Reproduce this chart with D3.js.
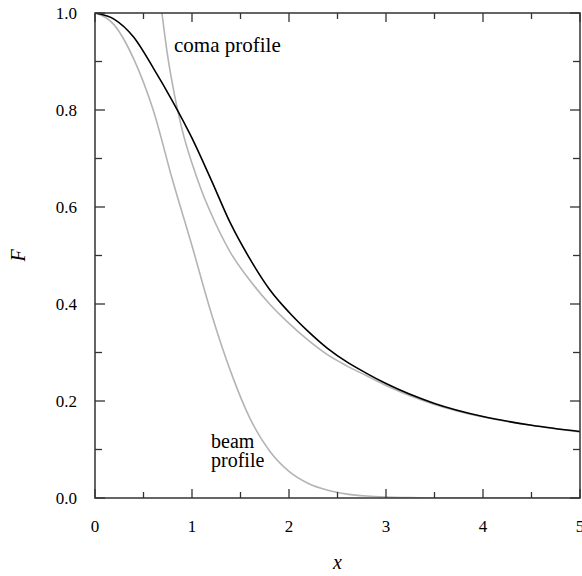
<!DOCTYPE html>
<html>
<head>
<meta charset="utf-8">
<script src="https://cdn.jsdelivr.net/npm/d3@7"></script>
<style>
  body { margin: 0; background: #fff; }
</style>
</head>
<body>
<div id="chart"></div>
<script>
// values
var beamX = [0, 0.2, 0.4, 0.6, 0.8, 1.0, 1.2, 1.4, 1.6, 1.8, 2.0, 2.2, 2.4, 2.6, 2.8, 3.0, 3.2, 3.5, 4.0, 5.0];
var beamF = [1.0, 0.975, 0.905, 0.80, 0.655, 0.52, 0.38, 0.26, 0.163, 0.097, 0.055, 0.03, 0.016, 0.008, 0.004, 0.002, 0.001, 0, 0, 0];

var comaX = [0.69, 0.75, 0.8, 0.9, 1.0, 1.1, 1.2, 1.4, 1.6, 1.8, 2.0, 2.2, 2.4, 2.6, 2.8, 3.0, 3.5, 4.0, 4.5, 5.0];
var comaF = [1.0, 0.91, 0.852, 0.758, 0.69, 0.633, 0.585, 0.505, 0.448, 0.40, 0.36, 0.325, 0.295, 0.272, 0.252, 0.232, 0.193, 0.167, 0.150, 0.136];

var totalX = [0, 0.2, 0.4, 0.6, 0.8, 1.0, 1.2, 1.4, 1.6, 1.8, 2.0, 2.2, 2.4, 2.6, 2.8, 3.0, 3.5, 4.0, 4.5, 5.0];
var totalF = [1.0, 0.987, 0.95, 0.887, 0.818, 0.742, 0.655, 0.565, 0.492, 0.43, 0.383, 0.343, 0.308, 0.28, 0.257, 0.236, 0.195, 0.168, 0.150, 0.137];

var xTicks = [0, 1, 2, 3, 4, 5];
var yTicks = [0.0, 0.2, 0.4, 0.6, 0.8, 1.0];

var serif = "'Liberation Serif', 'Times New Roman', Times, serif";

var margin = { top: 13, right: 2, bottom: 78, left: 95 },
  width = 582 - margin.left - margin.right,
  height = 576 - margin.top - margin.bottom;

var svg = d3.select("#chart")
  .append("svg")
  .attr("width", 582)
  .attr("height", 576)
  .attr("font-family", serif)
  .append("g")
  .attr("transform", "translate(" + margin.left + "," + margin.top + ")");

var x = d3.scaleLinear().domain([0, 5]).range([0, width]);
var y = d3.scaleLinear().domain([0, 1]).range([height, 0]);

svg.append("clipPath").attr("id", "clip")
  .append("rect").attr("width", width).attr("height", height);

function pairs(xs, ys) { return xs.map(function (d, i) { return [d, ys[i]]; }); }

var line = d3.line()
  .x(function (d) { return x(d[0]); })
  .y(function (d) { return y(d[1]); })
  .curve(d3.curveMonotoneX);

var plot = svg.append("g").attr("clip-path", "url(#clip)");

plot.append("path").datum(pairs(beamX, beamF))
  .attr("d", line).attr("fill", "none").attr("stroke", "#b4b4b4").attr("stroke-width", 1.6);
plot.append("path").datum(pairs(comaX, comaF))
  .attr("d", line).attr("fill", "none").attr("stroke", "#b4b4b4").attr("stroke-width", 1.6);
plot.append("path").datum(pairs(totalX, totalF))
  .attr("d", line).attr("fill", "none").attr("stroke", "#000").attr("stroke-width", 1.6);

// ticks inward on all four sides
var xMinor = d3.range(0, 5.01, 0.5);
var yMinor = d3.range(0, 1.001, 0.1);
var tickColor = "#333";

var ticks = svg.append("g").attr("stroke", tickColor).attr("stroke-width", 1.3);
xMinor.forEach(function (v) {
  var len = Math.abs(v - Math.round(v)) < 1e-6 ? 9 : 6;
  ticks.append("line").attr("x1", x(v)).attr("x2", x(v)).attr("y1", height).attr("y2", height - len);
  ticks.append("line").attr("x1", x(v)).attr("x2", x(v)).attr("y1", 0).attr("y2", len);
});
yMinor.forEach(function (v) {
  var major = Math.abs(v * 5 - Math.round(v * 5)) < 1e-6;
  var len = major ? 10 : 7;
  ticks.append("line").attr("y1", y(v)).attr("y2", y(v)).attr("x1", 0).attr("x2", len);
  ticks.append("line").attr("y1", y(v)).attr("y2", y(v)).attr("x1", width).attr("x2", width - len);
});

svg.append("rect")
  .attr("width", width).attr("height", height)
  .attr("fill", "none").attr("stroke", tickColor).attr("stroke-width", 1.5);

// tick labels
svg.append("g").selectAll("text").data(xTicks).enter().append("text")
  .attr("x", function (d) { return x(d); })
  .attr("y", height + 34)
  .attr("text-anchor", "middle")
  .attr("font-size", 17)
  .text(function (d) { return d; });

svg.append("g").selectAll("text").data(yTicks).enter().append("text")
  .attr("x", -18)
  .attr("y", function (d) { return y(d); })
  .attr("dy", "0.35em")
  .attr("text-anchor", "end")
  .attr("font-size", 17)
  .text(function (d) { return d.toFixed(1); });

// axis titles
svg.append("text")
  .attr("x", x(2.5)).attr("y", height + 71)
  .attr("text-anchor", "middle")
  .attr("font-size", 20).attr("font-style", "italic")
  .text("x");

svg.append("text")
  .attr("transform", "translate(" + (-70) + "," + (y(0.5)) + ") rotate(-90)")
  .attr("text-anchor", "middle")
  .attr("font-size", 20).attr("font-style", "italic")
  .text("F");

// curve labels
svg.append("text")
  .attr("x", 174 - margin.left).attr("y", 52 - margin.top)
  .attr("font-size", 21)
  .text("coma profile");

var beamLabel = svg.append("text")
  .attr("x", 211 - margin.left).attr("y", 448 - margin.top)
  .attr("font-size", 20);
beamLabel.append("tspan").text("beam");
beamLabel.append("tspan").attr("x", 211 - margin.left).attr("dy", 19).text("profile");
</script>
</body>
</html>
